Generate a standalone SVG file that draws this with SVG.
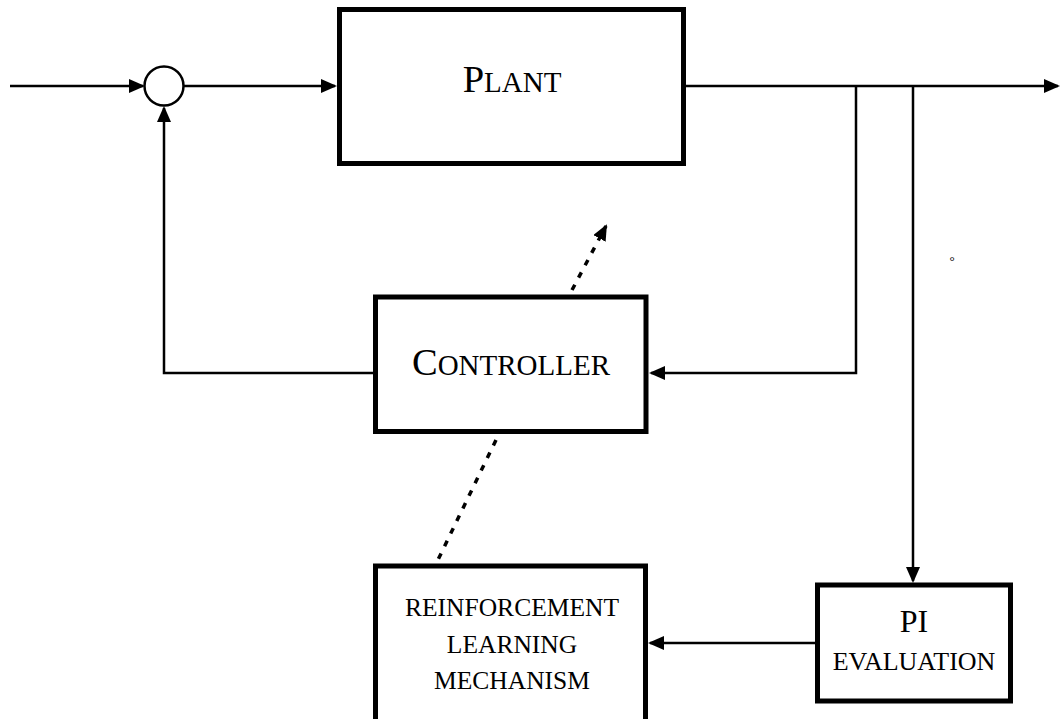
<svg xmlns="http://www.w3.org/2000/svg" width="1060" height="719" viewBox="0 0 1060 719">
  <style>
    .box { fill: #fff; stroke: #000; stroke-width: 5; }
    .wire { fill: none; stroke: #000; stroke-width: 2.5; }
    .dots { fill: none; stroke: #000; stroke-width: 3.5; stroke-dasharray: 6 8; }
    .lbl { font-family: "Liberation Serif", "Times New Roman", serif; fill: #000; text-anchor: middle; }
  </style>
  <defs>
    <marker id="arrow" markerUnits="userSpaceOnUse" markerWidth="17" markerHeight="15" refX="14" refY="7" orient="auto">
      <path d="M0,0 L16,7 L0,14 z" fill="#000"/>
    </marker>
  </defs>

  <rect width="1060" height="719" fill="#fff"/>

  <!-- connectors -->
  <g id="connectors">
    <line class="wire" x1="10" y1="86" x2="143" y2="86" marker-end="url(#arrow)"/>
    <line class="wire" x1="184" y1="86" x2="335" y2="86" marker-end="url(#arrow)"/>
    <line class="wire" x1="686" y1="86" x2="1058" y2="86" marker-end="url(#arrow)"/>
    <polyline class="wire" points="856,86 856,373 651,373" marker-end="url(#arrow)"/>
    <line class="wire" x1="913" y1="86" x2="913" y2="581" marker-end="url(#arrow)"/>
    <line class="wire" x1="816" y1="643" x2="650" y2="643" marker-end="url(#arrow)"/>
    <polyline class="wire" points="374,373 164,373 164,108" marker-end="url(#arrow)"/>
    <line class="dots" x1="572" y1="290" x2="606" y2="226" marker-end="url(#arrow)"/>
    <line class="dots" x1="496" y1="440" x2="435" y2="566"/>
  </g>

  <g id="sum">
    <circle cx="164" cy="86" r="19.5" fill="#fff" stroke="#000" stroke-width="2.5"/>
  </g>

  <g id="plant">
    <rect class="box" x="339.5" y="9.5" width="344" height="154"/>
    <text class="lbl" x="512" y="92" font-size="38.5">P<tspan font-size="29">LANT</tspan></text>
  </g>

  <g id="controller">
    <rect class="box" x="375.5" y="297" width="270.5" height="134.5"/>
    <text class="lbl" x="511" y="375" font-size="38.5">C<tspan font-size="29">ONTROLLER</tspan></text>
  </g>

  <g id="rl">
    <rect class="box" x="375.5" y="566" width="270" height="170"/>
    <text class="lbl" x="512" y="616" font-size="25.5">REINFORCEMENT</text>
    <text class="lbl" x="512" y="653" font-size="25.5">LEARNING</text>
    <text class="lbl" x="512" y="689" font-size="25.5">MECHANISM</text>
  </g>

  <g id="pi">
    <rect class="box" x="817.5" y="585" width="193" height="116"/>
    <text class="lbl" x="914" y="632" font-size="32">PI</text>
    <text class="lbl" x="914" y="670" font-size="26">EVALUATION</text>
  </g>

  <text class="lbl" x="952" y="265" font-size="13">°</text>
</svg>
